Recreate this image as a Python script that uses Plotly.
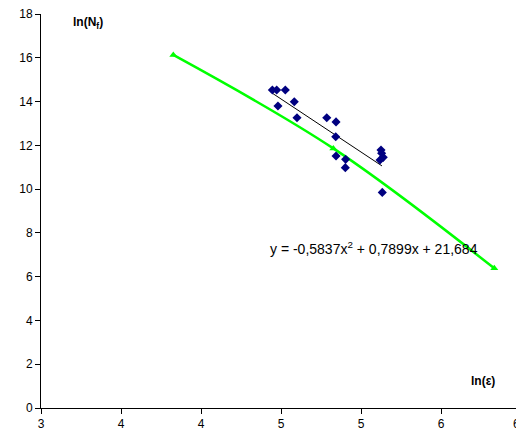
import plotly.graph_objects as go

# Measured data points (ln(eps), ln(Nf))
data_x = [4.446, 4.473, 4.527, 4.481, 4.583, 4.600, 4.786, 4.844, 4.842, 4.844,
          4.904, 4.902, 5.125, 5.129, 5.119, 5.139, 5.133]
data_y = [14.53, 14.53, 14.53, 13.80, 13.99, 13.26, 13.26, 13.07, 12.39, 11.51,
          11.36, 10.98, 11.79, 11.64, 11.33, 11.45, 9.85]

# Linear trend line endpoints
trend_x = [4.444, 5.131]
trend_y = [14.39, 11.06]

# Green model curve points
model_x = [3.827, 4.827, 5.833]
model_y = [16.13, 11.86, 6.38]

xtick_vals = [3, 3.5, 4, 4.5, 5, 5.5, 6]
xtick_text = ["3", "4", "4", "5", "5", "6", "6"]
ytick_vals = [0, 2, 4, 6, 8, 10, 12, 14, 16, 18]

# page has an 8px body margin: figure occupies window pixels 8..524 x 8..435
OFF = 8
W, H = 524 - OFF, 435 - OFF
l, r, t, b = 41 - OFF, 3, 14 - OFF, 27
pw, ph = W - l - r, H - t - b

fig = go.Figure()
fig.add_trace(go.Scatter(x=model_x, y=model_y, mode="lines+markers",
                         line=dict(color="#00FF00", width=2.5, shape="spline"),
                         marker=dict(symbol="triangle-up", size=7, color="#00FF00"),
                         showlegend=False))
fig.add_trace(go.Scatter(x=trend_x, y=trend_y, mode="lines",
                         line=dict(color="black", width=1), showlegend=False))
fig.add_trace(go.Scatter(x=data_x, y=data_y, mode="markers",
                         marker=dict(symbol="diamond", size=7, color="#000080"),
                         showlegend=False))

font = dict(family="Liberation Sans, Arial, sans-serif", size=12, color="black")


def px(x, y):
    # window pixel -> paper coordinates
    return (x - OFF - l) / pw, 1 - (y - OFF - t) / ph


a1 = px(88, 23)
a2 = px(483, 381)
a3 = px(374, 248)
a4 = px(521, 424)

# last tick label is drawn as an annotation (it sits on the page edge)
shown_text = xtick_text[:-1] + [""]

fig.update_layout(
    width=W, height=H,
    margin=dict(l=l, r=r, t=t, b=b, autoexpand=False),
    paper_bgcolor="white", plot_bgcolor="white",
    font=font,
    xaxis=dict(range=[3, 6], tickvals=xtick_vals, ticktext=shown_text,
               showgrid=False, zeroline=False, showline=True, linecolor="black",
               linewidth=1, ticks="outside", ticklen=5, tickcolor="black",
               tickfont=font, ticklabeloverflow="allow"),
    yaxis=dict(range=[0, 18], tickvals=ytick_vals, showgrid=False, zeroline=False,
               showline=True, linecolor="black", linewidth=1, ticks="outside",
               ticklen=5, tickcolor="black", tickfont=font,
               ticklabeloverflow="allow"),
    annotations=[
        dict(x=a1[0], y=a1[1], xref="paper", yref="paper",
             xanchor="center", yanchor="middle",
             text="<b>ln(N<sub>f</sub>)</b>", showarrow=False,
             font=dict(family="Liberation Sans, Arial", size=12, color="black")),
        dict(x=a2[0], y=a2[1], xref="paper", yref="paper",
             xanchor="center", yanchor="middle", text="<b>ln(ε)</b>",
             showarrow=False,
             font=dict(family="Liberation Sans, Arial", size=12, color="black")),
        dict(x=a3[0], y=a3[1], xref="paper", yref="paper",
             xanchor="center", yanchor="middle",
             text="y = -0,5837x<sup>2</sup> + 0,7899x + 21,684", showarrow=False,
             font=dict(family="Liberation Sans, Arial", size=14, color="black")),
        dict(x=a4[0], y=a4[1], xref="paper", yref="paper",
             xanchor="right", yanchor="middle", text=xtick_text[-1],
             showarrow=False, borderpad=0,
             font=dict(family="Liberation Sans, Arial", size=12, color="black")),
    ],
)

fig.write_html("out.html")
